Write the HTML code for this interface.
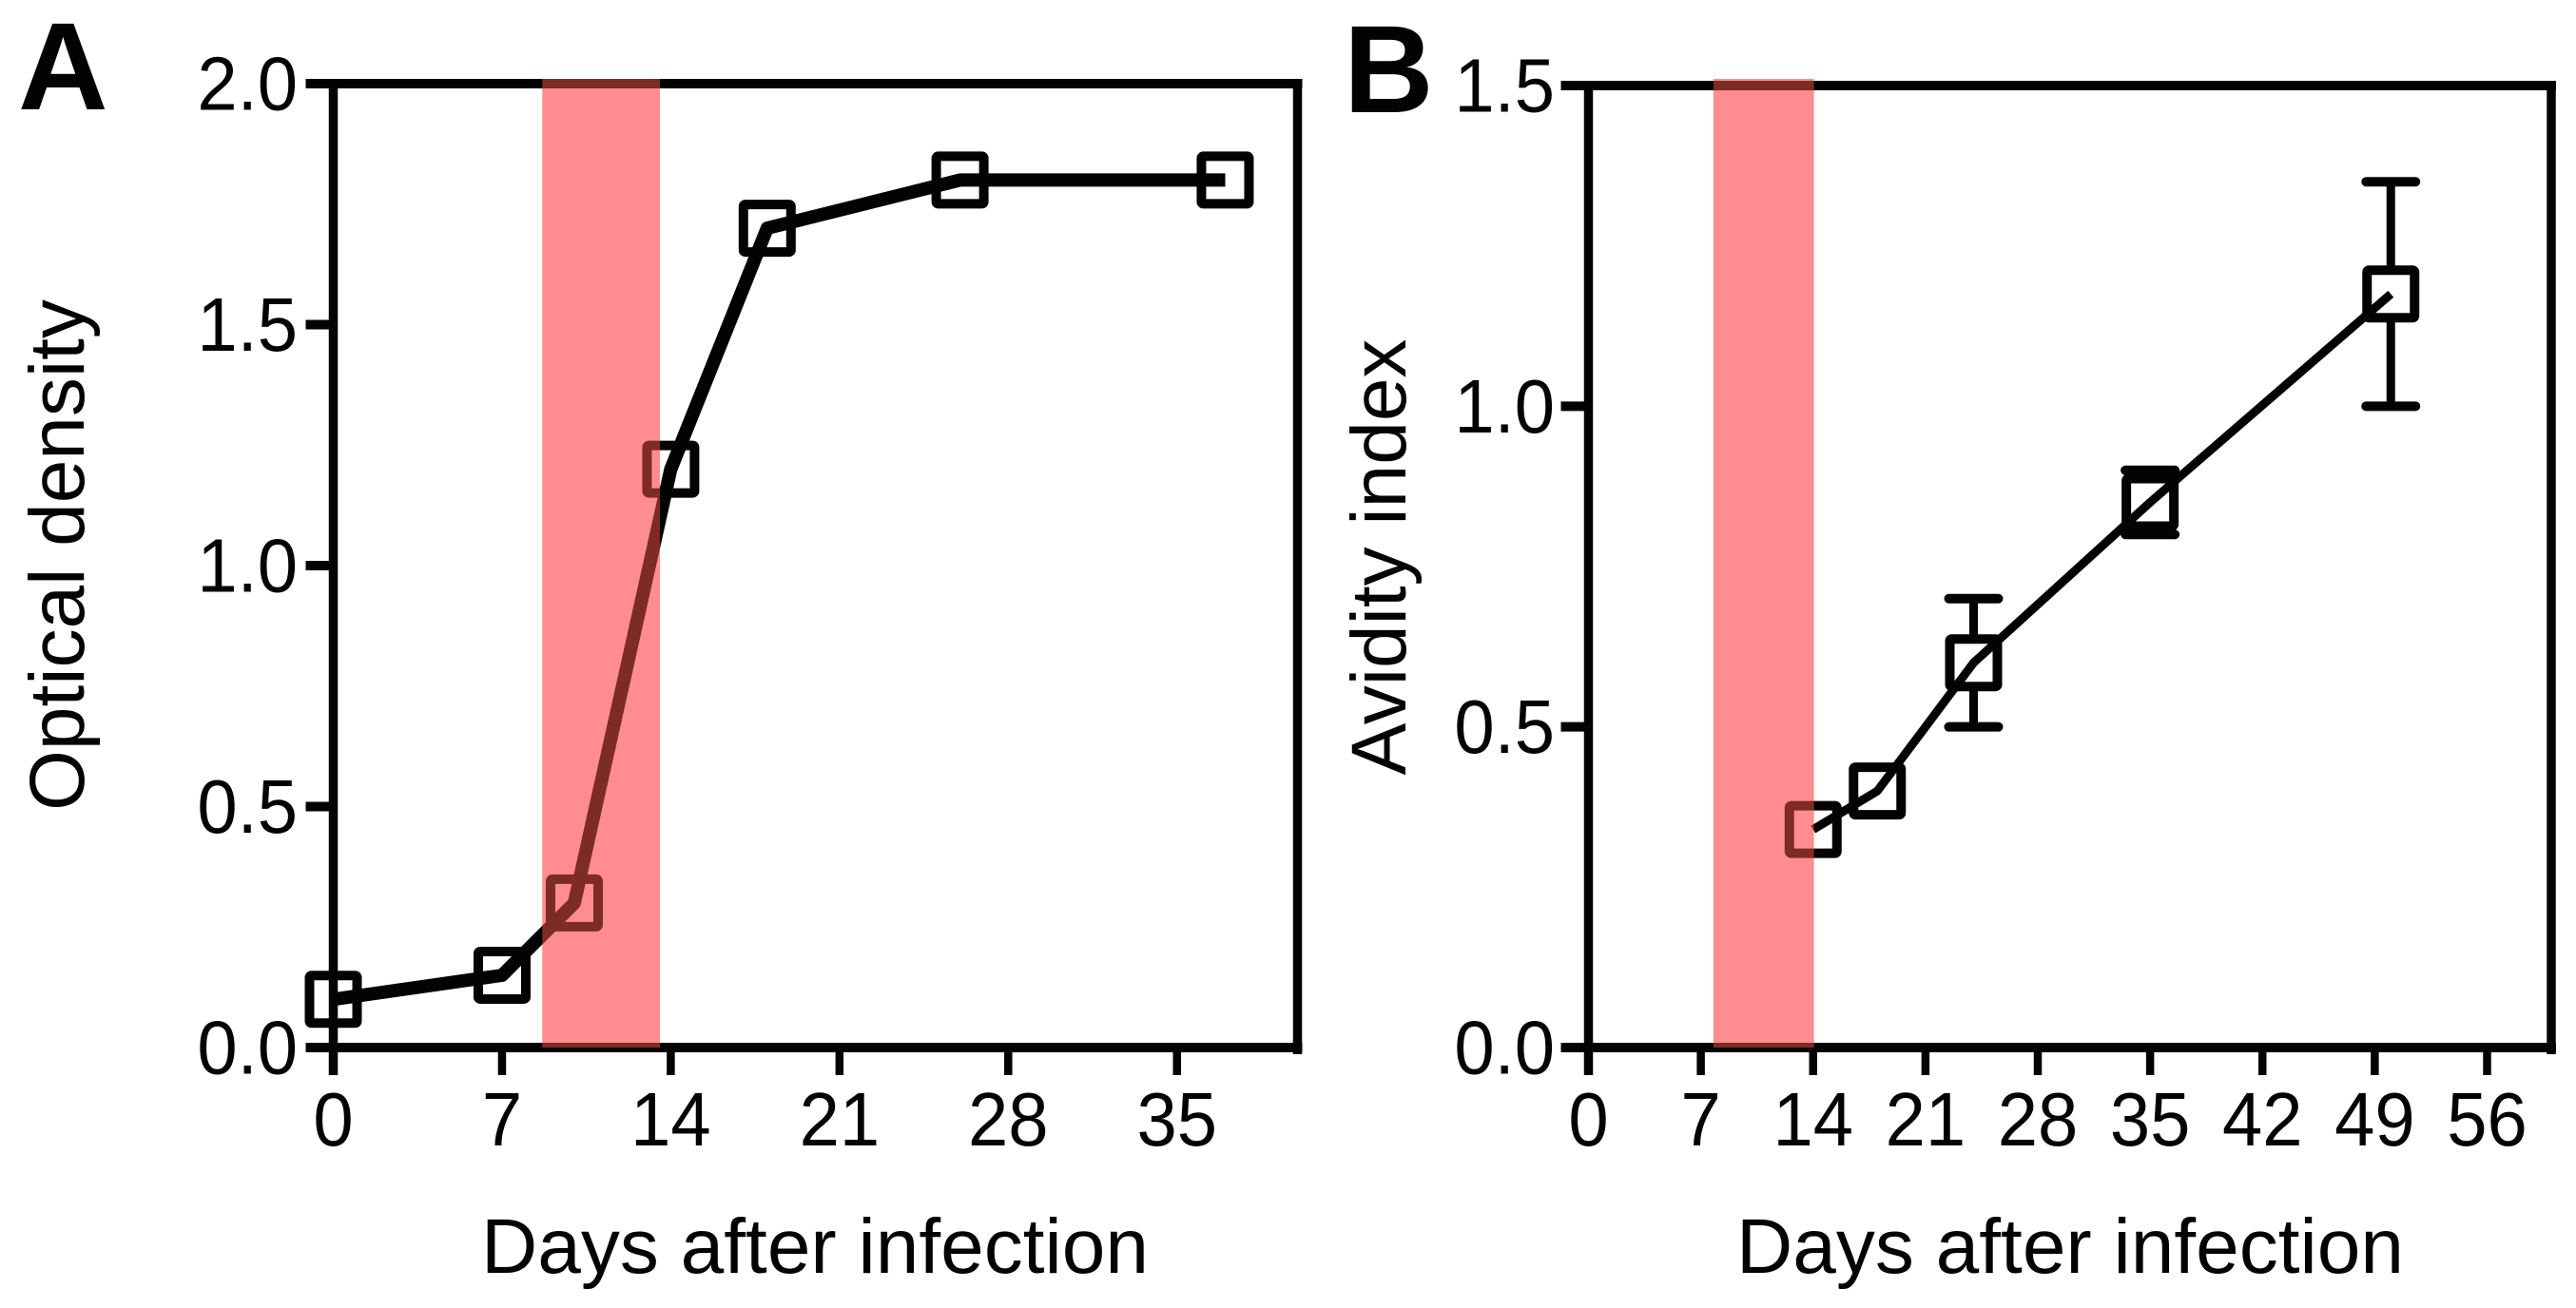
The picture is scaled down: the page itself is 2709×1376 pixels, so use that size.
<!DOCTYPE html>
<html lang="en">
<head>
<meta charset="utf-8">
<title>Optical density and avidity index after infection</title>
<style>
html,body{margin:0;padding:0;background:#fff;width:2709px;height:1376px;overflow:hidden}
svg{display:block}
text{font-family:"Liberation Sans",Arial,sans-serif;fill:#030303}
</style>
</head>
<body>
<svg id="figure" xmlns="http://www.w3.org/2000/svg" width="2709" height="1376" viewBox="0 0 2709 1376">
  <rect x="0" y="0" width="2709" height="1376" fill="#ffffff"/>
  <g id="panel-a"></g>
  <g id="panel-b"></g>
</svg>
<script>
// Panel A data
const aDays = [0, 7, 10, 14, 18, 26, 37];
const aDensity = [0.1, 0.15, 0.3, 1.2, 1.7, 1.8, 1.8];
const aXTicks = [0, 7, 14, 21, 28, 35];
const aYTicks = [0, 0.5, 1.0, 1.5, 2.0];
const aBand = [8.67, 13.55];

// Panel B data
const bDays = [14, 18, 24, 35, 50];
const bAvidity = [0.34, 0.4, 0.6, 0.85, 1.175];
const bErrors = [0, 0, 0.1, 0.05, 0.175];
const bXTicks = [0, 7, 14, 21, 28, 35, 42, 49, 56];
const bYTicks = [0, 0.5, 1.0, 1.5];
const bBand = [7.79, 14.05];

const SVG_NS = 'http://www.w3.org/2000/svg';
const INK = '#030303';

function make(parent, tag, attrs) {
  const el = document.createElementNS(SVG_NS, tag);
  for (const k in attrs) el.setAttribute(k, attrs[k]);
  parent.appendChild(el);
  return el;
}
function linear(d0, d1, p0, p1) {
  return v => p0 + (v - d0) / (d1 - d0) * (p1 - p0);
}

function drawPanel(root, cfg) {
  const x = linear(0, cfg.xMax, cfg.left, cfg.right);
  const y = linear(0, cfg.yMax, cfg.bottom, cfg.top);
  const tickLeft = cfg.left - 29;
  const tickBottom = cfg.bottom + 29;

  // frame
  const topAxis = make(root, 'line', {x1: tickLeft, x2: cfg.right + 5, y1: cfg.top, y2: cfg.top, stroke: INK, 'stroke-width': 10});
  
  
  const bottomAxis = make(root, 'line', {x1: tickLeft, x2: cfg.right + 5, y1: cfg.bottom, y2: cfg.bottom, stroke: INK, 'stroke-width': 10});
  
  
  const leftAxis = make(root, 'line', {x1: cfg.left, x2: cfg.left, y1: cfg.top, y2: tickBottom, stroke: INK, 'stroke-width': 9.5});
  
  
  const rightAxis = make(root, 'line', {x1: cfg.right, x2: cfg.right, y1: cfg.top - 5, y2: cfg.bottom + 7, stroke: INK, 'stroke-width': 9.5});
  
  

  // x ticks
  cfg.xTicks.forEach(t => {
    const tick = make(root, 'line', {x1: x(t), x2: x(t), y1: cfg.bottom, y2: tickBottom, stroke: INK, 'stroke-width': 8.5});
    
    
    const label = make(root, 'text', {transform: `translate(${x(t)},1205) scale(0.95,1)`, 'font-size': 80, 'text-anchor': 'middle'});
    label.textContent = String(t);
    
    
  });

  // y ticks
  cfg.yTicks.forEach(t => {
    const tick = make(root, 'line', {x1: tickLeft, x2: cfg.left, y1: y(t), y2: y(t), stroke: INK, 'stroke-width': 10});
    
    
    const label = make(root, 'text', {transform: `translate(${cfg.yLabelRight},${y(t) + 27.5}) scale(0.95,1)`, 'font-size': 80, 'text-anchor': 'end'});
    label.textContent = t.toFixed(1);
    
    
  });

  // error bars
  cfg.days.forEach((d, i) => {
    const e = cfg.errors ? cfg.errors[i] : 0;
    if (!e) return;
    const cx = x(d), cy = y(cfg.values[i]);
    const capHalf = 26;
    const hi = y(cfg.values[i] + e), lo = y(cfg.values[i] - e);
    const upper = make(root, 'line', {x1: cx, x2: cx, y1: hi, y2: Math.min(cy - 25, Math.max(hi, cy - 25)), stroke: INK, 'stroke-width': 9});
    
    
    const lower = make(root, 'line', {x1: cx, x2: cx, y1: lo, y2: Math.max(cy + 25, Math.min(lo, cy + 25)), stroke: INK, 'stroke-width': 9});
    
    
    const capTop = make(root, 'line', {x1: cx - capHalf, x2: cx + capHalf, y1: hi, y2: hi, stroke: INK, 'stroke-width': 10, 'stroke-linecap': 'round'});
    
    
    const capBottom = make(root, 'line', {x1: cx - capHalf, x2: cx + capHalf, y1: lo, y2: lo, stroke: INK, 'stroke-width': 10, 'stroke-linecap': 'round'});
    
    
  });

  // markers
  cfg.days.forEach((d, i) => {
    const side = 50;
    const marker = make(root, 'rect', {x: x(d) - side / 2, y: y(cfg.values[i]) - side / 2, width: side, height: side, rx: 2, fill: 'none', stroke: INK, 'stroke-width': 10, 'stroke-linejoin': 'round'});
    
    
  });

  // series line
  const pts = cfg.days.map((d, i) => x(d).toFixed(1) + ',' + y(cfg.values[i]).toFixed(1)).join(' ');
  const series = make(root, 'polyline', {points: pts, fill: 'none', stroke: INK, 'stroke-width': cfg.lineWidth, 'stroke-linejoin': 'round'});
  
  

  // translucent window band on top of everything (two blend layers)
  const bx0 = x(cfg.band[0]), bx1 = x(cfg.band[1]);
  const bandTint = make(root, 'rect', {x: bx0, y: 83, width: bx1 - bx0, height: cfg.bottom - 83, fill: '#ff7580', style: 'mix-blend-mode:multiply'});
  
  
  const bandGlow = make(root, 'rect', {x: bx0, y: 83, width: bx1 - bx0, height: cfg.bottom - 83, fill: '#7b2a20', style: 'mix-blend-mode:screen'});
  
  

  // titles
  const xTitle = make(root, 'text', {x: cfg.xTitleX, y: 1339, 'font-size': 82, 'text-anchor': 'middle'});
  xTitle.textContent = 'Days after infection';
  
  
  const yTitle = make(root, 'text', {transform: `translate(${cfg.yTitleX},${cfg.yTitleY}) rotate(-90)`, 'font-size': 82, 'text-anchor': 'middle'});
  yTitle.textContent = cfg.yTitle;
  
  
  const letter = make(root, 'text', {x: cfg.letterX, y: cfg.letterY, 'font-size': 131, 'font-weight': 'bold'});
  letter.textContent = cfg.letter;
  
  
}

drawPanel(document.getElementById('panel-a'), {
  left: 350.5, right: 1364.5, top: 88, bottom: 1102,
  xMax: 40, yMax: 2.0,
  xTicks: aXTicks, yTicks: aYTicks,
  days: aDays, values: aDensity, errors: null,
  band: aBand, lineWidth: 14,
  yLabelRight: 313,
  xTitleX: 857, yTitle: 'Optical density', yTitleX: 88, yTitleY: 584,
  letter: 'A', letterX: 19, letterY: 115
});

drawPanel(document.getElementById('panel-b'), {
  left: 1670.5, right: 2683, top: 90, bottom: 1102,
  xMax: 60, yMax: 1.5,
  xTicks: bXTicks, yTicks: bYTicks,
  days: bDays, values: bAvidity, errors: bErrors,
  band: bBand, lineWidth: 9,
  yLabelRight: 1635,
  xTitleX: 2177, yTitle: 'Avidity index', yTitleX: 1478, yTitleY: 586,
  letter: 'B', letterX: 1413, letterY: 118
});
</script>
</body>
</html>
